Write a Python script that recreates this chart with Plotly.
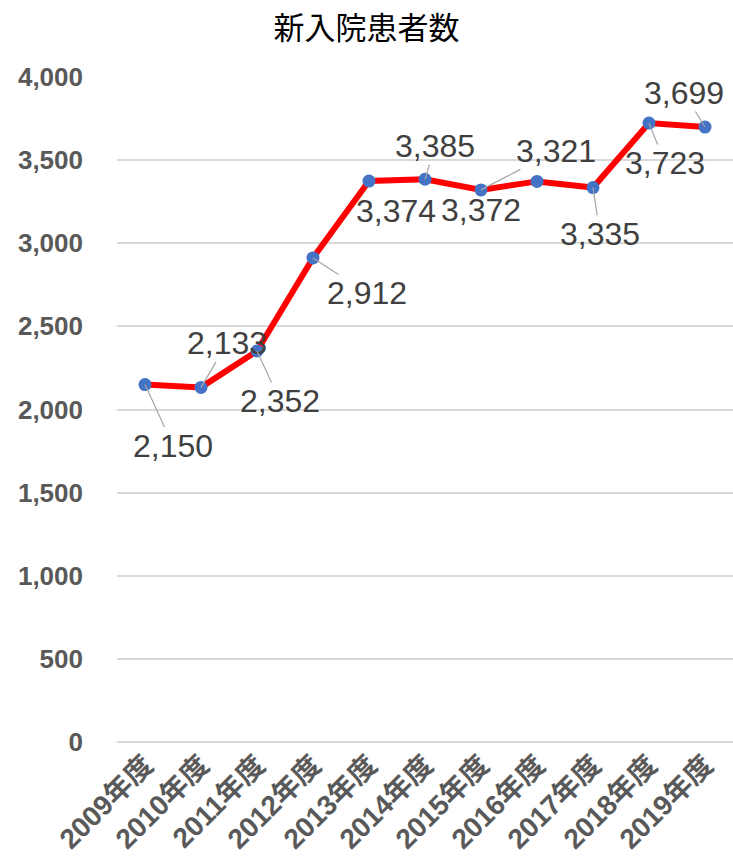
import plotly.graph_objects as go

# 新入院患者数 (fiscal years 2009-2019)
years = ["2009年度", "2010年度", "2011年度", "2012年度", "2013年度", "2014年度",
         "2015年度", "2016年度", "2017年度", "2018年度", "2019年度"]
patients = [2150, 2133, 2352, 2912, 3374, 3385, 3321, 3372, 3335, 3723, 3699]

y_ticks = [0, 500, 1000, 1500, 2000, 2500, 3000, 3500, 4000]

# label placement offsets in pixels (dx, dy) and whether a leader line is drawn
label_dx = [28, 26, 23, 54, 27, 10, 75, -56, 7, 16, -21]
label_dy = [61, -44, 50, 35, 30, -33, -39, 29, 46, 40, -34]
leader = [True, True, True, True, False, True, True, False, True, True, True]

LATIN = "Liberation Sans, Arial, Noto Sans CJK JP"
CJK = "Noto Sans CJK JP, Liberation Sans"

fig = go.Figure()
fig.add_trace(go.Scatter(
    x=years, y=patients,
    mode="lines+markers",
    line=dict(color="#FF0000", width=6),
    marker=dict(color="#4472C4", size=13),
    hoverinfo="x+y",
    showlegend=False,
))

for x, v, dx, dy, show in zip(years, patients, label_dx, label_dy, leader):
    fig.add_annotation(
        x=x, y=v, text=f"{v:,}",
        showarrow=True, ax=dx, ay=dy,
        arrowhead=0, arrowwidth=1.2, standoff=0,
        arrowcolor="#A6A6A6" if show else "rgba(0,0,0,0)",
        font=dict(family=LATIN, size=32, color="#404040"),
        borderpad=0,
    )

fig.update_layout(
    width=733, height=862,
    margin=dict(l=117, r=0, t=77, b=120),
    paper_bgcolor="white", plot_bgcolor="white",
    title=dict(text="新入院患者数", x=0.5, xanchor="center", y=0.967, yanchor="middle",
               font=dict(family=CJK, size=31, color="#000000")),
    xaxis=dict(
        type="category", tickangle=-45, range=[-0.5, len(years) - 0.5],
        tickfont=dict(family=LATIN, size=28, color="#595959", weight="bold"),
        showgrid=False, showline=False, ticks="",
    ),
    yaxis=dict(
        range=[0, 4000], tickvals=y_ticks,
        tickformat=",", ticklabelstandoff=33,
        tickfont=dict(family=LATIN, size=26, color="#595959", weight="bold"),
        showgrid=True, gridcolor="#D9D9D9", gridwidth=1.5,
        zeroline=True, zerolinecolor="#D9D9D9", zerolinewidth=1.5,
        showline=False, ticks="",
    ),
)

fig.write_html("out.html")
